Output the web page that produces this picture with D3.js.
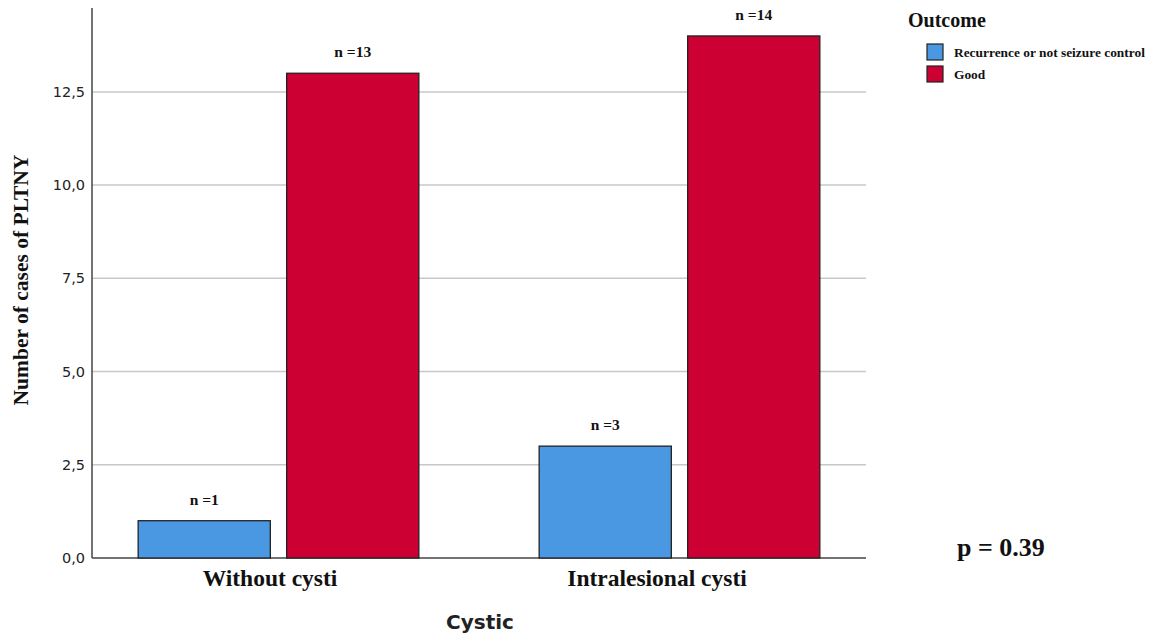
<!DOCTYPE html>
<html><head><meta charset="utf-8">
<script src="https://cdn.jsdelivr.net/npm/d3@7"></script>
<style>body{margin:0;background:#fff}</style>
</head><body><svg id="c" width="1149" height="636"></svg>
<script>
const categories = ["Without cysti", "Intralesional cysti"];
const seriesNames = ["Recurrence or not seizure control", "Good"];
const recurrence = [1, 3];
const good = [13, 14];
const yTicks = [0, 2.5, 5, 7.5, 10, 12.5];
const colors = ["#4a98e2", "#cc0033"];

const svg = d3.select("#c");
const plotL = 92, plotR = 866, plotT = 8, plotB = 558;
const y = d3.scaleLinear().domain([0, 14.75]).range([plotB, plotT]);
const x0 = d3.scaleBand().domain(categories).range([78, 880]).paddingInner(0.3).paddingOuter(0.15);
const x1 = d3.scaleBand().domain(seriesNames).range([0, x0.bandwidth()]).paddingInner(0.11);
const labelShift = [-8.5, -22.5];

// grid
svg.append("g").selectAll("line").data(yTicks.filter(d => d > 0)).join("line")
  .attr("x1", plotL).attr("x2", plotR).attr("y1", d => y(d)).attr("y2", d => y(d))
  .attr("stroke", "#c8c8c8").attr("stroke-width", 1.5);

// y axis
const yAxis = d3.axisLeft(y).tickValues(yTicks).tickSize(0).tickPadding(7)
  .tickFormat(d => d3.format(".1f")(d).replace(".", ","));
const ga = svg.append("g").attr("transform", `translate(${plotL},0)`).call(yAxis);
ga.select(".domain").remove();
ga.selectAll("text").attr("font-family", "DejaVu Sans, sans-serif").attr("font-size", 14.5).attr("fill", "#222");
svg.append("line").attr("x1", plotL).attr("x2", plotL).attr("y1", plotT).attr("y2", plotB).attr("stroke", "#444").attr("stroke-width", 1.5);
svg.append("line").attr("x1", plotL).attr("x2", plotR).attr("y1", plotB).attr("y2", plotB).attr("stroke", "#444").attr("stroke-width", 1.5);

// bars
const rows = categories.map((c, i) => ({cat: c, vals: [recurrence[i], good[i]]}));
const g = svg.append("g");
rows.forEach(r => {
  r.vals.forEach((v, j) => {
    const bx = x0(r.cat) + x1(seriesNames[j]);
    g.append("rect").attr("x", bx).attr("y", y(v)).attr("width", x1.bandwidth()).attr("height", y(0) - y(v))
      .attr("fill", colors[j]).attr("stroke", "#222").attr("stroke-width", 1.3);
    g.append("text").attr("x", bx + x1.bandwidth() / 2).attr("y", y(v) - 16)
      .attr("text-anchor", "middle").attr("font-family", "Liberation Serif, serif").attr("font-weight", "bold")
      .attr("font-size", 15.5).attr("fill", "#111").text("n =" + v);
  });
});

// category labels
svg.append("g").selectAll("text").data(categories).join("text")
  .attr("x", (d, i) => x0(d) + x0.bandwidth() / 2 + labelShift[i]).attr("y", 586).attr("text-anchor", "middle")
  .attr("font-family", "Liberation Serif, serif").attr("font-weight", "bold").attr("font-size", 23.5).attr("fill", "#111")
  .text(d => d);

// axis titles
svg.append("text").attr("x", 480).attr("y", 629).attr("text-anchor", "middle")
  .attr("font-family", "DejaVu Sans, sans-serif").attr("font-weight", "bold").attr("font-size", 20).attr("fill", "#222").text("Cystic");
svg.append("text").attr("transform", "translate(28,280) rotate(-90)").attr("text-anchor", "middle")
  .attr("font-family", "Liberation Serif, serif").attr("font-weight", "bold").attr("font-size", 21.5).attr("fill", "#111")
  .text("Number of cases of PLTNY");

// legend
svg.append("text").attr("x", 908).attr("y", 27).attr("font-family", "Liberation Serif, serif").attr("font-weight", "bold")
  .attr("font-size", 20).attr("fill", "#111").text("Outcome");
seriesNames.forEach((s, i) => {
  svg.append("rect").attr("x", 927).attr("y", 44 + i * 22).attr("width", 16).attr("height", 16)
    .attr("fill", colors[i]).attr("stroke", "#222").attr("stroke-width", 1.2);
  svg.append("text").attr("x", 954).attr("y", 57 + i * 22).attr("font-family", "Liberation Serif, serif").attr("font-weight", "bold")
    .attr("font-size", 13.4).attr("fill", "#111").text(s);
});

// p value
svg.append("text").attr("x", 957).attr("y", 556).attr("font-family", "Liberation Serif, serif").attr("font-weight", "bold")
  .attr("font-size", 26).attr("fill", "#111").text("p = 0.39");
</script></body></html>
